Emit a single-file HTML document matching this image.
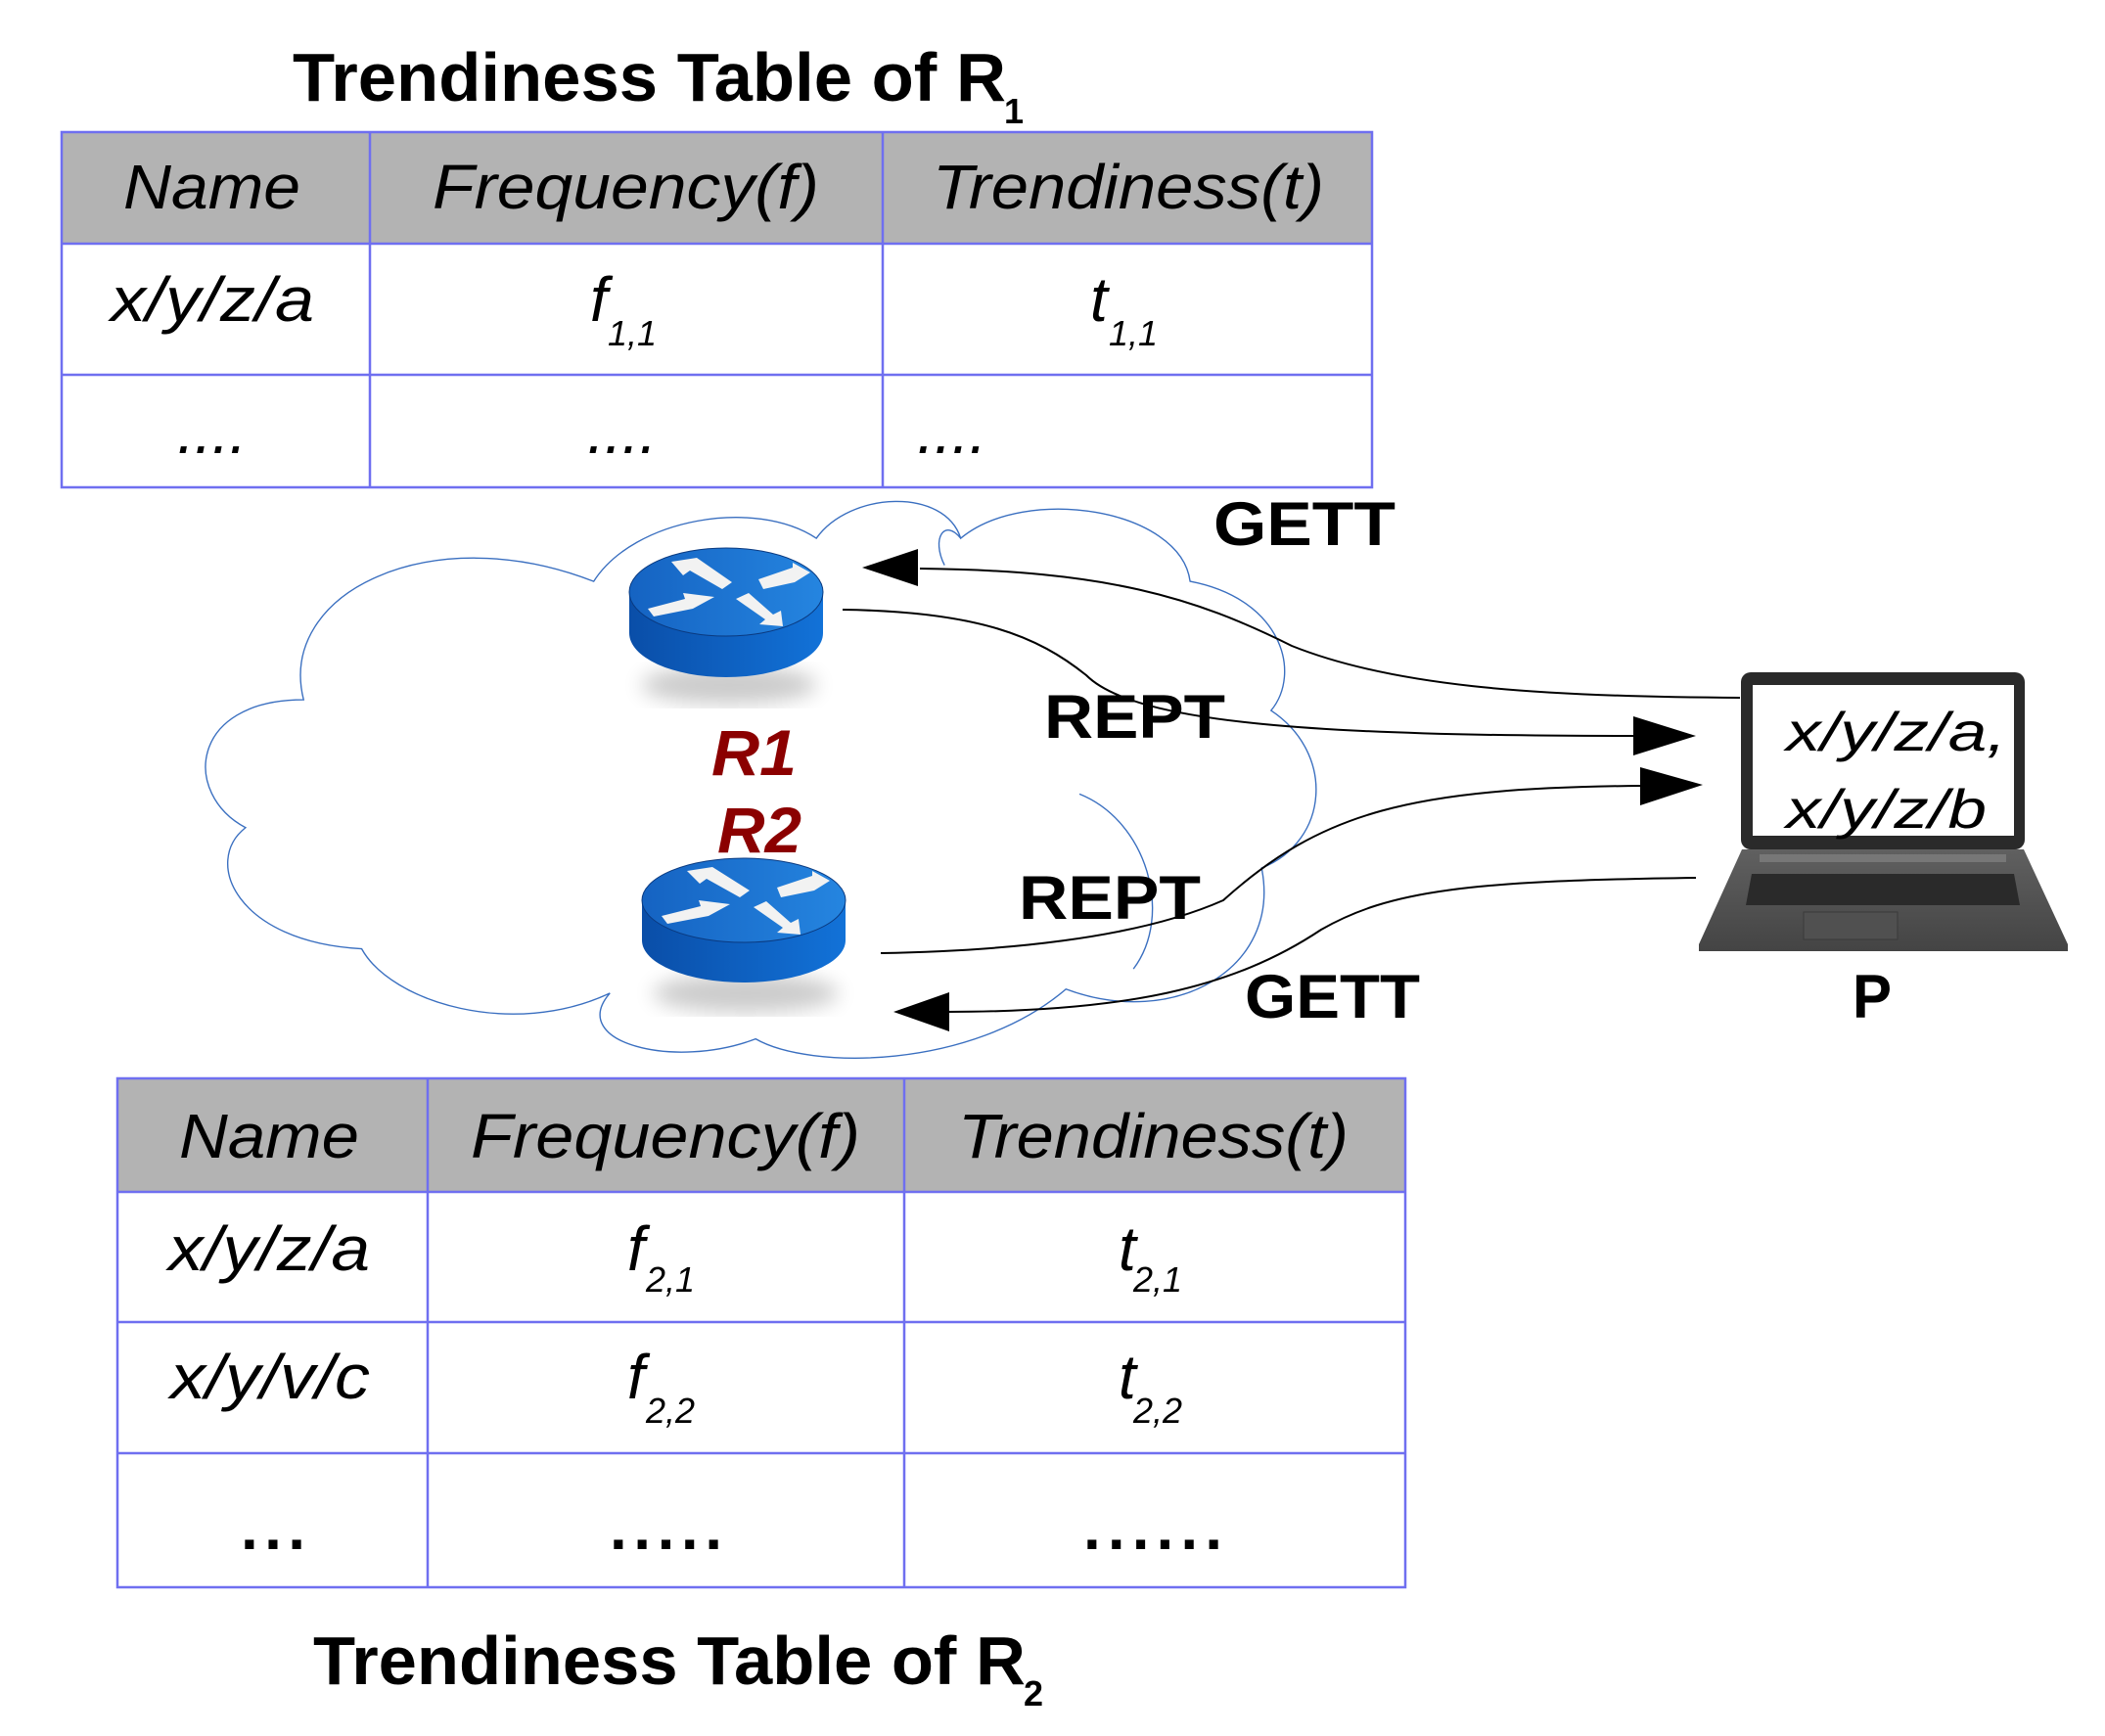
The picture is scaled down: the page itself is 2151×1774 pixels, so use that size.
<!DOCTYPE html>
<html><head><meta charset="utf-8"><style>html,body{margin:0;padding:0;background:#fff}svg{display:block}</style></head>
<body>
<svg width="2151" height="1774" viewBox="0 0 2151 1774" xmlns="http://www.w3.org/2000/svg" font-family="Liberation Sans, sans-serif">
<defs>
<linearGradient id="body" x1="0" x2="1" y1="0" y2="0"><stop offset="0" stop-color="#0a4ea8"/><stop offset="1" stop-color="#1272d8"/></linearGradient>
<linearGradient id="top" x1="0" x2="1" y1="0" y2="0"><stop offset="0" stop-color="#1563c2"/><stop offset="1" stop-color="#2585e0"/></linearGradient>
<linearGradient id="base" x1="0" x2="0" y1="0" y2="1"><stop offset="0" stop-color="#606060"/><stop offset="1" stop-color="#444"/></linearGradient>
<filter id="blur"><feGaussianBlur stdDeviation="10"/></filter>
</defs>

<!-- Table 1 -->
<text x="299" y="103" font-size="70" font-weight="bold" textLength="729" lengthAdjust="spacingAndGlyphs">Trendiness Table of R</text>
<text x="1026" y="126" font-size="36" font-weight="bold">1</text>
<rect x="63" y="135" width="1339" height="114" fill="#b3b3b3"/>
<g stroke="#6f6ff0" stroke-width="2.5" fill="none">
<rect x="63" y="135" width="1339" height="363"/>
<line x1="63" y1="249" x2="1402" y2="249"/><line x1="63" y1="383" x2="1402" y2="383"/>
<line x1="378" y1="135" x2="378" y2="498"/><line x1="902" y1="135" x2="902" y2="498"/>
</g>
<g font-style="italic" font-size="64">
<text x="126" y="213" textLength="181" lengthAdjust="spacingAndGlyphs">Name</text>
<text x="442" y="213" textLength="395" lengthAdjust="spacingAndGlyphs">Frequency(f)</text>
<text x="953" y="213" textLength="400" lengthAdjust="spacingAndGlyphs">Trendiness(t)</text>
<text x="113" y="328" textLength="208" lengthAdjust="spacingAndGlyphs">x/y/z/a</text>
<text x="603" y="328">f</text><text x="621" y="353" font-size="36">1,1</text>
<text x="1114" y="328">t</text><text x="1133" y="353" font-size="36">1,1</text>
<text x="181" y="463">....</text><text x="600" y="463">....</text><text x="937" y="463">....</text>
</g>

<!-- Cloud -->
<g transform="scale(1.3788,1.3752)" fill="none" stroke="#3a6fc0" stroke-width="1">
<path d="M225,520 C205,440 320,385 440,432 C470,385 560,370 605,400 C630,365 700,362 712,400 C760,360 875,378 882,432 C950,445 965,500 942,528 C990,560 985,625 935,645 C950,720 870,765 790,735 C720,795 600,795 560,772 C500,795 420,775 452,738 C380,772 290,745 268,705 C175,700 150,640 182,615 C135,590 140,520 225,520 Z"/>
<path d="M800,590 C850,610 870,680 840,720"/>
<path d="M700,420 C690,400 700,385 712,400"/>
</g>

<!-- Routers -->
<g>
<ellipse cx="745" cy="700" rx="90" ry="20" fill="#000" opacity="0.2" filter="url(#blur)"/>
<path d="M643,605 L643,647 A99,45 0 0 0 841,647 L841,605 Z" fill="url(#body)"/>
<ellipse cx="742" cy="605" rx="99" ry="45" fill="url(#top)" stroke="#0a3a80" stroke-width="1"/>
<g fill="#f2f2f2">
<polygon points="686,574 712,570 748,595 738,602 705,583 698,588"/>
<polygon points="775,592 810,580 810,575 828,585 812,595 780,602"/>
<polygon points="662,622 700,612 698,606 730,610 708,622 668,630"/>
<polygon points="752,612 765,606 790,628 798,624 800,640 776,638 782,633"/>
</g>
</g>
<g>
<ellipse cx="762" cy="1015" rx="95" ry="20" fill="#000" opacity="0.2" filter="url(#blur)"/>
<path d="M656,920 L656,961 A104,43 0 0 0 864,961 L864,920 Z" fill="url(#body)"/>
<ellipse cx="760" cy="920" rx="104" ry="43" fill="url(#top)" stroke="#0a3a80" stroke-width="1"/>
<g fill="#f2f2f2">
<polygon points="702,890 728,886 766,910 756,917 722,898 715,903"/>
<polygon points="794,907 830,895 830,890 848,900 832,910 798,917"/>
<polygon points="676,936 716,926 714,920 746,924 724,936 682,944"/>
<polygon points="770,927 783,921 808,943 816,939 818,955 794,953 800,948"/>
</g>
</g>
<text x="727" y="792" font-size="66" font-weight="bold" font-style="italic" fill="#8b0000" textLength="87" lengthAdjust="spacingAndGlyphs">R1</text>
<text x="733" y="871" font-size="66" font-weight="bold" font-style="italic" fill="#8b0000" textLength="86" lengthAdjust="spacingAndGlyphs">R2</text>

<!-- Connectors -->
<g fill="none" stroke="#000" stroke-width="2">
<path d="M1778,713 C1560,712 1420,700 1320,660 C1220,610 1130,583 940,581"/>
<path d="M861,623 C1000,625 1060,650 1110,690 C1160,740 1350,752 1670,752"/>
<path d="M900,974 C1020,972 1160,960 1250,920 C1350,830 1440,805 1676,803"/>
<path d="M1733,897 C1500,900 1420,910 1350,950 C1260,1010 1150,1034 966,1034"/>
</g>
<g fill="#000">
<polygon points="881,580 938,561 938,599"/>
<polygon points="1733,752 1669,732 1669,772"/>
<polygon points="1740,802 1676,784 1676,823"/>
<polygon points="913,1034 970,1014 970,1054"/>
</g>
<g font-size="63" font-weight="bold">
<text x="1240" y="557" textLength="186" lengthAdjust="spacingAndGlyphs">GETT</text>
<text x="1067" y="754" textLength="185" lengthAdjust="spacingAndGlyphs">REPT</text>
<text x="1041" y="939" textLength="186" lengthAdjust="spacingAndGlyphs">REPT</text>
<text x="1272" y="1040" textLength="179" lengthAdjust="spacingAndGlyphs">GETT</text>
<text x="1893" y="1040" textLength="40" lengthAdjust="spacingAndGlyphs">P</text>
</g>

<!-- Laptop -->
<rect x="1779" y="687" width="290" height="181" rx="10" fill="#2a2a2a"/>
<rect x="1791" y="700" width="267" height="154" fill="#fff"/>
<polygon points="1780,868 2068,868 2113,965 2113,972 1736,972 1736,965" fill="url(#base)"/>
<rect x="1798" y="873" width="252" height="8" fill="#777"/>
<polygon points="1790,893 2058,893 2064,925 1784,925" fill="#2a2a2a"/>
<rect x="1843" y="932" width="96" height="28" fill="#505050" stroke="#3a3a3a"/>
<g font-style="italic" font-size="56">
<text x="1825" y="767" textLength="225" lengthAdjust="spacingAndGlyphs">x/y/z/a,</text>
<text x="1825" y="846" textLength="205" lengthAdjust="spacingAndGlyphs">x/y/z/b</text>
</g>

<!-- Table 2 -->
<rect x="120" y="1102" width="1316" height="116" fill="#b3b3b3"/>
<g stroke="#6f6ff0" stroke-width="2.5" fill="none">
<rect x="120" y="1102" width="1316" height="520"/>
<line x1="120" y1="1218" x2="1436" y2="1218"/><line x1="120" y1="1351" x2="1436" y2="1351"/><line x1="120" y1="1485" x2="1436" y2="1485"/>
<line x1="437" y1="1102" x2="437" y2="1622"/><line x1="924" y1="1102" x2="924" y2="1622"/>
</g>
<g font-style="italic" font-size="64">
<text x="183" y="1183" textLength="184" lengthAdjust="spacingAndGlyphs">Name</text>
<text x="481" y="1183" textLength="398" lengthAdjust="spacingAndGlyphs">Frequency(f)</text>
<text x="979" y="1183" textLength="399" lengthAdjust="spacingAndGlyphs">Trendiness(t)</text>
<text x="172" y="1298" textLength="206" lengthAdjust="spacingAndGlyphs">x/y/z/a</text>
<text x="641" y="1298">f</text><text x="660" y="1320" font-size="36">2,1</text>
<text x="1143" y="1298">t</text><text x="1158" y="1320" font-size="36">2,1</text>
<text x="174" y="1429" textLength="204" lengthAdjust="spacingAndGlyphs">x/y/v/c</text>
<text x="641" y="1429">f</text><text x="660" y="1454" font-size="36">2,2</text>
<text x="1143" y="1429">t</text><text x="1158" y="1454" font-size="36">2,2</text>
</g>
<g font-size="64" font-weight="bold">
<text x="246" y="1583" textLength="66" lengthAdjust="spacing">...</text>
<text x="623" y="1583" textLength="115" lengthAdjust="spacing">.....</text>
<text x="1107" y="1583" textLength="142" lengthAdjust="spacing">......</text>
</g>
<text x="320" y="1721" font-size="70" font-weight="bold" textLength="728" lengthAdjust="spacingAndGlyphs">Trendiness Table of R</text>
<text x="1046" y="1743" font-size="36" font-weight="bold">2</text>
</svg>
</body></html>
